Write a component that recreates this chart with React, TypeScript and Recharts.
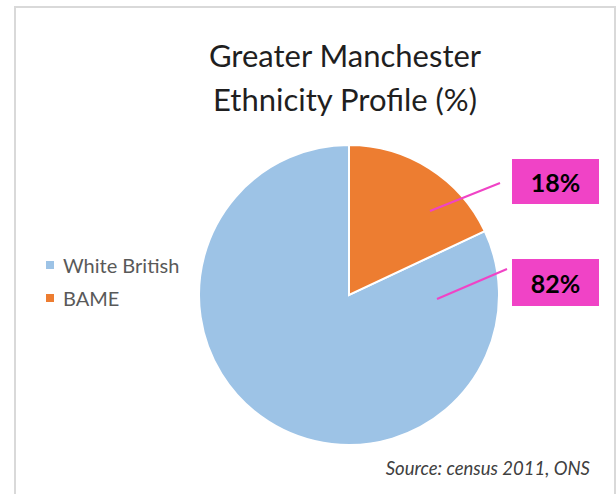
import { PieChart, Pie, Cell } from 'recharts';

const categories = ['White British', 'BAME'];
const shares = [82, 18];
const sliceColors = ['#9DC3E6', '#ED7D31'];
const labelText = ['82%', '18%'];

const data = categories.map((name, i) => ({ name, value: shares[i] }));

const FONT = 'Lato, "Open Sans", sans-serif';
const PINK = '#F043C6';

// labels were dragged by hand in the original, so they sit off to the right
const labelSpots = [
  { line: [88, 4, 158, -26], box: [163, -36, 87, 47] },
  { line: [81, -84, 151, -112], box: [163, -136, 87, 45] },
];

const renderLabel = (props: any) => {
  const { cx, cy, index } = props;
  const s = labelSpots[index];
  const [x1, y1, x2, y2] = s.line;
  const [bx, by, bw, bh] = s.box;
  return (
    <g>
      <line x1={cx + x1} y1={cy + y1} x2={cx + x2} y2={cy + y2} stroke={PINK} strokeWidth={2} />
      <rect x={cx + bx} y={cy + by} width={bw} height={bh} fill={PINK} />
      <text
        x={cx + bx + bw / 2}
        y={cy + by + bh / 2 + 4}
        textAnchor="middle"
        dominantBaseline="middle"
        fontFamily={FONT}
        fontWeight={700}
        fontSize={25}
        fill="#000"
      >
        {labelText[index]}
      </text>
    </g>
  );
};

export default function App() {
  return (
    <div style={{ position: 'absolute', left: 0, top: 0, width: 616, height: 494, background: '#fff' }}>
      <div
        style={{
          position: 'absolute',
          left: 14,
          top: 6,
          width: 598,
          height: 500,
          borderLeft: '2px solid #D9D9D9',
          borderTop: '2px solid #D9D9D9',
          borderRight: '2px solid #D9D9D9',
        }}
      />
      <div
        style={{
          position: 'absolute',
          left: 145,
          width: 400,
          top: 33,
          textAlign: 'center',
          fontFamily: FONT,
          fontSize: 31,
          lineHeight: '44px',
          color: '#1f1f1f',
        }}
      >
        Greater Manchester
        <br />
        Ethnicity Profile (%)
      </div>
      <PieChart
        width={616}
        height={494}
        margin={{ top: 0, right: 0, bottom: 0, left: 0 }}
        style={{ position: 'absolute', left: 0, top: 0 }}
      >
        <Pie
          data={data}
          dataKey="value"
          nameKey="name"
          cx={349}
          cy={295}
          outerRadius={150}
          startAngle={90}
          endAngle={450}
          stroke="#fff"
          strokeWidth={2}
          label={renderLabel}
          labelLine={false}
          isAnimationActive={false}
        >
          {data.map((d, i) => (
            <Cell key={d.name} fill={sliceColors[i]} />
          ))}
        </Pie>
      </PieChart>
      <div style={{ position: 'absolute', left: 46, top: 248 }}>
        {categories.map((c, i) => (
          <div key={c} style={{ display: 'flex', alignItems: 'center', height: 33 }}>
            <span style={{ width: 8, height: 8, background: sliceColors[i], marginRight: 9 }} />
            <span style={{ fontFamily: FONT, fontSize: 20, color: '#595959' }}>{c}</span>
          </div>
        ))}
      </div>
      <div
        style={{
          position: 'absolute',
          right: 26,
          top: 457,
          fontFamily: FONT,
          fontStyle: 'italic',
          fontSize: 18.5,
          color: '#404040',
        }}
      >
        Source: census 2011, ONS
      </div>
    </div>
  );
}
